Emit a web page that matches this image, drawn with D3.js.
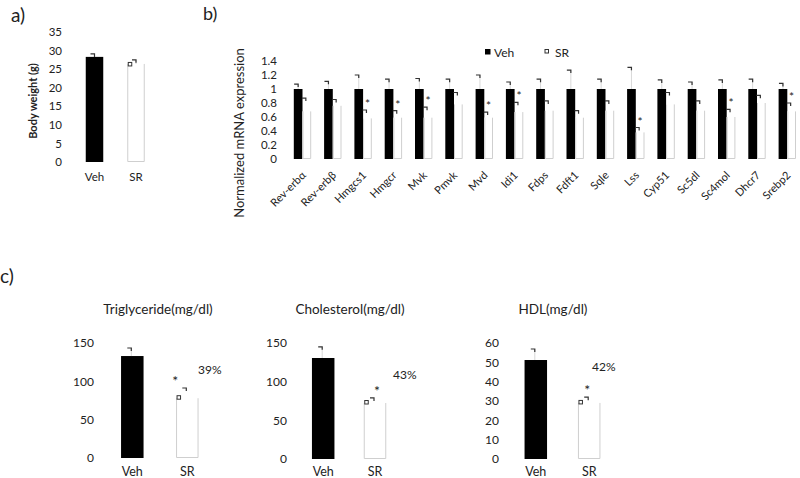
<!DOCTYPE html>
<html><head><meta charset="utf-8">
<script src="https://cdn.jsdelivr.net/npm/d3@7"></script>
<style>
body{margin:0;background:#fff}
svg{display:block}
text{font-family:Lato,"Open Sans",sans-serif;fill:#222}
</style>
</head><body>
<svg id="chart" width="800" height="478"></svg>
<script>
// ---------- data ----------
const groups = ["Veh", "SR"];

const bodyWeight = [28.3, 26.4];
const bodyWeightErr = [0.8, 1.1];
const bodyWeightTicks = [0, 5, 10, 15, 20, 25, 30, 35];

const genes = ["Rev-erbα","Rev-erbβ","Hmgcs1","Hmgcr","Mvk","Pmvk","Mvd","Idi1","Fdps","Fdft1","Sqle","Lss","Cyp51","Sc5dl","Sc4mol","Dhcr7","Srebp2"];
const vehExpr    = [1, 1, 1, 1, 1, 1, 1, 1, 1, 1, 1, 1, 1, 1, 1, 1, 1];
const vehExprErr = [0.07, 0.11, 0.20, 0.14, 0.15, 0.14, 0.20, 0.10, 0.14, 0.27, 0.14, 0.31, 0.13, 0.10, 0.13, 0.14, 0.08];
const srExpr     = [0.68, 0.76, 0.58, 0.59, 0.59, 0.78, 0.59, 0.67, 0.69, 0.59, 0.69, 0.38, 0.78, 0.69, 0.60, 0.80, 0.68];
const srExprErr  = [0.19, 0.09, 0.12, 0.10, 0.15, 0.17, 0.08, 0.14, 0.14, 0.10, 0.14, 0.07, 0.17, 0.14, 0.11, 0.11, 0.12];
const srSignificant = [0, 0, 1, 1, 1, 0, 1, 1, 0, 0, 0, 1, 0, 0, 1, 0, 1];
const exprTicks = [0, 0.2, 0.4, 0.6, 0.8, 1, 1.2, 1.4];

const trigValues = [133, 78];
const trigErr = [10.5, 13.3];
const trigTicks = [0, 50, 100, 150];
const cholValues = [130.6, 72.4];
const cholErr = [14.4, 6.6];
const cholTicks = [0, 50, 100, 150];
const hdlValues = [51.2, 29];
const hdlErr = [5.7, 3];
const hdlTicks = [0, 10, 20, 30, 40, 50, 60];
const reductionLabels = ["39%", "43%", "42%"];
const plasmaTitles = ["Triglyceride(mg/dl)", "Cholesterol(mg/dl)", "HDL(mg/dl)"];

// ---------- helpers ----------
const svg = d3.select("#chart");
const SR_EDGE = "#cfcfcf";

function capMark(g, x, y) {
  g.append("path")
    .attr("d", `M${x - 4},${y}H${x}V${y + 3}`)
    .attr("fill", "none").attr("stroke", "#333").attr("stroke-width", 1.2);
}
function stem(g, x, y1, y2) {
  g.append("line").attr("x1", x).attr("x2", x).attr("y1", y1).attr("y2", y2)
    .attr("stroke", "#d8d8d8").attr("stroke-width", 1);
}
function srBar(g, x, w, yTop, yBase) {
  g.append("rect").attr("x", x).attr("y", yTop).attr("width", w).attr("height", yBase - yTop).attr("fill", "#fff");
  g.append("path")
    .attr("d", `M${x + 0.5},${yTop}V${yBase - 0.5}H${x + w - 0.5}V${yTop}`)
    .attr("fill", "none").attr("stroke", SR_EDGE).attr("stroke-width", 1);
}
function smallSquare(g, x, y) {
  g.append("rect").attr("x", x).attr("y", y).attr("width", 3.5).attr("height", 3.5)
    .attr("fill", "#fff").attr("stroke", "#333").attr("stroke-width", 1);
}
function yAxis(g, scale, ticks, xRight, fs) {
  const ax = g.append("g").attr("transform", `translate(${xRight},0)`)
    .call(d3.axisLeft(scale).tickValues(ticks).tickSize(0).tickPadding(0).tickFormat(d => String(d)));
  ax.select(".domain").remove();
  ax.selectAll("text").style("font-family", "Lato, 'Open Sans', sans-serif").style("font-size", fs + "px").attr("fill", "#222");
  return ax;
}

// ---------- panel labels ----------
svg.append("text").attr("x", 11).attr("y", 22).style("font-size", "19px").text("a)");
svg.append("text").attr("x", 203).attr("y", 20).style("font-size", "18px").text("b)");
svg.append("text").attr("x", 0).attr("y", 283).style("font-size", "19px").text("c)");

// ---------- panel a ----------
{
  const g = svg.append("g");
  const y = d3.scaleLinear().domain([0, 35]).range([162, 32]);
  const x = d3.scalePoint().domain(groups).range([94.5, 136]);
  const w = 17.5;
  yAxis(g, y, bodyWeightTicks, 62, 11.5);
  g.append("text").attr("transform", `translate(37,101) rotate(-90)`).attr("text-anchor", "middle")
    .style("font-size", "11px").style("font-weight", "bold").text("Body weight (g)");
  groups.forEach((d, i) => {
    const cx = x(d), top = y(bodyWeight[i]), capY = y(bodyWeight[i] + bodyWeightErr[i]);
    if (i === 0) g.append("rect").attr("x", cx - w / 2).attr("y", top).attr("width", w).attr("height", y(0) - top).attr("fill", "#000");
    else { srBar(g, cx - w / 2, w, top, y(0)); smallSquare(g, cx - w / 2 + 1, top - 1.5); }
    stem(g, cx, capY, top);
    capMark(g, cx, capY);
    g.append("text").attr("x", cx).attr("y", 181).attr("text-anchor", "middle").style("font-size", "11.5px").text(d);
  });
}

// ---------- panel b ----------
{
  const g = svg.append("g");
  const y = d3.scaleLinear().domain([0, 1.4]).range([159, 61]);
  const x = d3.scalePoint().domain(genes).range([302.5, 787.3]);
  const sub = d3.scaleBand().domain(groups).range([-8.7, 8.7]);
  const bw = sub.bandwidth();
  yAxis(g, y, exprTicks, 277, 11.5);
  g.append("text").attr("transform", `translate(244,133) rotate(-90)`).attr("text-anchor", "middle")
    .style("font-size", "13px").text("Normalized mRNA expression");
  genes.forEach((gene, i) => {
    const cx = x(gene);
    const vx = cx + sub("Veh"), vTop = y(vehExpr[i]), vCap = y(vehExpr[i] + vehExprErr[i]);
    g.append("rect").attr("x", vx).attr("y", vTop).attr("width", bw).attr("height", y(0) - vTop).attr("fill", "#000");
    stem(g, vx + bw / 2, vCap, vTop);
    capMark(g, vx + bw / 2, vCap);
    const sx = cx + sub("SR"), sTop = y(srExpr[i]), sCap = y(srExpr[i] + srExprErr[i]);
    srBar(g, sx, bw, sTop, y(0));
    capMark(g, sx + bw / 2 - 1, sCap);
    if (srSignificant[i]) {
      g.append("text").attr("x", sx + bw / 2).attr("y", sCap - 2).attr("text-anchor", "middle")
        .style("font-size", "12px").text("*");
    }
    g.append("text").attr("transform", `translate(${cx + 4},176) rotate(-45)`).attr("text-anchor", "end")
      .style("font-size", "11px").text(gene);
  });
  g.append("rect").attr("x", 485).attr("y", 49).attr("width", 5.5).attr("height", 5.5).attr("fill", "#000");
  g.append("text").attr("x", 494).attr("y", 57).style("font-size", "12px").text(groups[0]);
  smallSquare(g, 545, 49.5);
  g.append("text").attr("x", 555).attr("y", 57).style("font-size", "12px").text(groups[1]);
}

// ---------- panel c ----------
{
  const panels = [
    { title: plasmaTitles[0], values: trigValues, err: trigErr, ticks: trigTicks, max: 150,
      yTop: 343, yBase: 458, axisX: 94, centers: [132.3, 187.3], titleX: 158, starDx: -12, pctX: 198, pctY: 374 },
    { title: plasmaTitles[1], values: cholValues, err: cholErr, ticks: cholTicks, max: 150,
      yTop: 343, yBase: 459, axisX: 287, centers: [323.2, 375], titleX: 350, starDx: 2, pctX: 393, pctY: 379 },
    { title: plasmaTitles[2], values: hdlValues, err: hdlErr, ticks: hdlTicks, max: 60,
      yTop: 343, yBase: 459, axisX: 499, centers: [535.8, 589.2], titleX: 553, starDx: -2, pctX: 592, pctY: 371 }
  ];
  panels.forEach((p, k) => {
    const g = svg.append("g");
    const y = d3.scaleLinear().domain([0, p.max]).range([p.yBase, p.yTop]);
    const x = d3.scalePoint().domain(groups).range(p.centers);
    const w = 22.5;
    yAxis(g, y, p.ticks, p.axisX, 12);
    g.append("text").attr("x", p.titleX).attr("y", 314).attr("text-anchor", "middle").style("font-size", "13.5px").text(p.title);
    groups.forEach((d, i) => {
      const cx = x(d), top = y(p.values[i]), capY = y(p.values[i] + p.err[i]);
      if (i === 0) g.append("rect").attr("x", cx - w / 2).attr("y", top).attr("width", w).attr("height", y(0) - top).attr("fill", "#000");
      else { srBar(g, cx - w / 2, w, top, y(0)); smallSquare(g, cx - w / 2 + 1, top - 2.5); }
      if (i === 0) stem(g, cx - 1, capY, top);
      capMark(g, cx - 1, capY);
      g.append("text").attr("x", cx).attr("y", 476).attr("text-anchor", "middle").style("font-size", "12.5px").text(d);
      if (i === 1) {
        g.append("text").attr("x", cx + p.starDx).attr("y", capY - 2).attr("text-anchor", "middle").style("font-size", "14px").text("*");
        g.append("text").attr("x", p.pctX).attr("y", p.pctY).style("font-size", "12px").text(reductionLabels[k]);
      }
    });
  });
}
</script>
</body></html>
